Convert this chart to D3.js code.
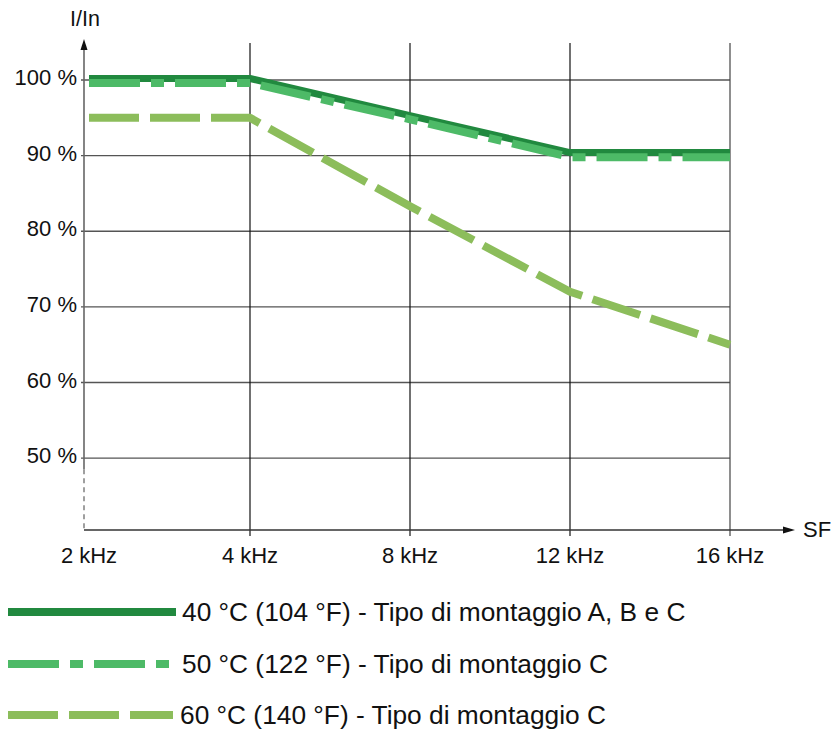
<!DOCTYPE html>
<html>
<head>
<meta charset="utf-8">
<script src="https://cdn.jsdelivr.net/npm/d3@7"></script>
<style>
  html, body { margin: 0; padding: 0; background: #fff; }
  svg { display: block; font-family: "Liberation Sans", Arial, sans-serif; }
</style>
</head>
<body>
<svg id="chart" width="838" height="733"></svg>
<script>
// Switching frequency categories (kHz) and their labels
const freqValues = [2, 4, 8, 12, 16];
const freqLabels = ["2 kHz", "4 kHz", "8 kHz", "12 kHz", "16 kHz"];

// Y gridline values (% of nominal current)
const yTicks = [50, 60, 70, 80, 90, 100];
const yTickLabels = ["50 %", "60 %", "70 %", "80 %", "90 %", "100 %"];

// Derating curves, I/In in % at each frequency
const series40 = [100.2, 100.2, 95.3, 90.4, 90.4];
const series50 = [99.6, 99.6, 94.8, 89.8, 89.8];
const series60 = [95, 95, 83.3, 72, 65];

const seriesNames = [
  "40 °C (104 °F) - Tipo di montaggio A, B e C",
  "50 °C (122 °F) - Tipo di montaggio C",
  "60 °C (140 °F) - Tipo di montaggio C"
];

const styles = [
  { color: "#21893f", width: 7, dash: null },
  { color: "#4dba67", width: 8, dash: "51,11,13,11" },
  { color: "#8cbd5b", width: 8, dash: "50,11" }
];

const svg = d3.select("#chart");

const axisX = 84;
const axisY = 530;
const gridTop = 43;

// piecewise-linear frequency axis (first interval drawn slightly wider)
const x = d3.scaleLinear().domain([2, 4, 16]).range([89, 250, 730]);
const y = d3.scaleLinear().domain([40.5, 100]).range([axisY, 80]);

// horizontal gridlines
svg.append("g").selectAll("line")
  .data(yTicks)
  .join("line")
  .attr("x1", axisX - 3).attr("x2", x(16))
  .attr("y1", d => y(d)).attr("y2", d => y(d))
  .attr("stroke", "#555").attr("stroke-width", 1.3);

// vertical gridlines
svg.append("g").selectAll("line")
  .data(freqValues.slice(1))
  .join("line")
  .attr("x1", d => x(d)).attr("x2", d => x(d))
  .attr("y1", gridTop).attr("y2", axisY + 6)
  .attr("stroke", (d, i, n) => i === n.length - 1 ? "#444" : "#111")
  .attr("stroke-width", 1.2);

// y axis: solid part with arrow head, dashed lower part
svg.append("line")
  .attr("x1", axisX).attr("x2", axisX)
  .attr("y1", y(50) + 11).attr("y2", 44)
  .attr("stroke", "#666").attr("stroke-width", 1.6);
svg.append("path")
  .attr("d", `M${axisX},39 l-3.5,11 l7,0 Z`).attr("fill", "#111");
svg.append("line")
  .attr("x1", axisX).attr("x2", axisX)
  .attr("y1", y(50) + 11).attr("y2", axisY)
  .attr("stroke", "#777").attr("stroke-width", 1.4)
  .attr("stroke-dasharray", "5,4");

// x axis with arrow head
svg.append("line")
  .attr("x1", axisX).attr("x2", 785)
  .attr("y1", axisY).attr("y2", axisY)
  .attr("stroke", "#333").attr("stroke-width", 1.4);
svg.append("path")
  .attr("d", `M795,${axisY} l-12,-3.5 l0,7 Z`).attr("fill", "#111");

// tick labels
svg.append("g").selectAll("text")
  .data(yTicks)
  .join("text")
  .attr("x", 77).attr("y", d => y(d) + 5)
  .attr("text-anchor", "end")
  .attr("font-size", 22).attr("fill", "#111")
  .text((d, i) => yTickLabels[i]);

svg.append("g").selectAll("text")
  .data(freqValues)
  .join("text")
  .attr("x", d => x(d)).attr("y", 563)
  .attr("text-anchor", "middle")
  .attr("font-size", 22).attr("fill", "#111")
  .text((d, i) => freqLabels[i]);

// axis titles
svg.append("text").attr("x", 70).attr("y", 26)
  .attr("font-size", 21.5).attr("fill", "#111").text("I/In");
svg.append("text").attr("x", 803).attr("y", 537)
  .attr("font-size", 22).attr("fill", "#111").text("SF");

// curves
const line = d3.line()
  .x((d, i) => x(freqValues[i]))
  .y(d => y(d));

const allSeries = [series40, series50, series60];
allSeries.forEach((s, k) => {
  const st = styles[k];
  const p = svg.append("path")
    .datum(s)
    .attr("d", line)
    .attr("fill", "none")
    .attr("stroke", st.color)
    .attr("stroke-width", st.width)
    .attr("stroke-linejoin", "round");
  if (st.dash) p.attr("stroke-dasharray", st.dash);
});

// legend
const legendY = [612, 664, 715];
const legendEnd = [176, 169, 173];
const legend = svg.append("g");
seriesNames.forEach((name, k) => {
  const st = styles[k];
  const l = legend.append("line")
    .attr("x1", 8).attr("x2", legendEnd[k])
    .attr("y1", legendY[k]).attr("y2", legendY[k])
    .attr("stroke", st.color).attr("stroke-width", 8);
  if (st.dash) l.attr("stroke-dasharray", st.dash);
  legend.append("text")
    .attr("x", k === 2 ? 180 : 182).attr("y", legendY[k] + 9)
    .attr("font-size", 26.3).attr("fill", "#111")
    .text(name);
});
</script>
</body>
</html>
